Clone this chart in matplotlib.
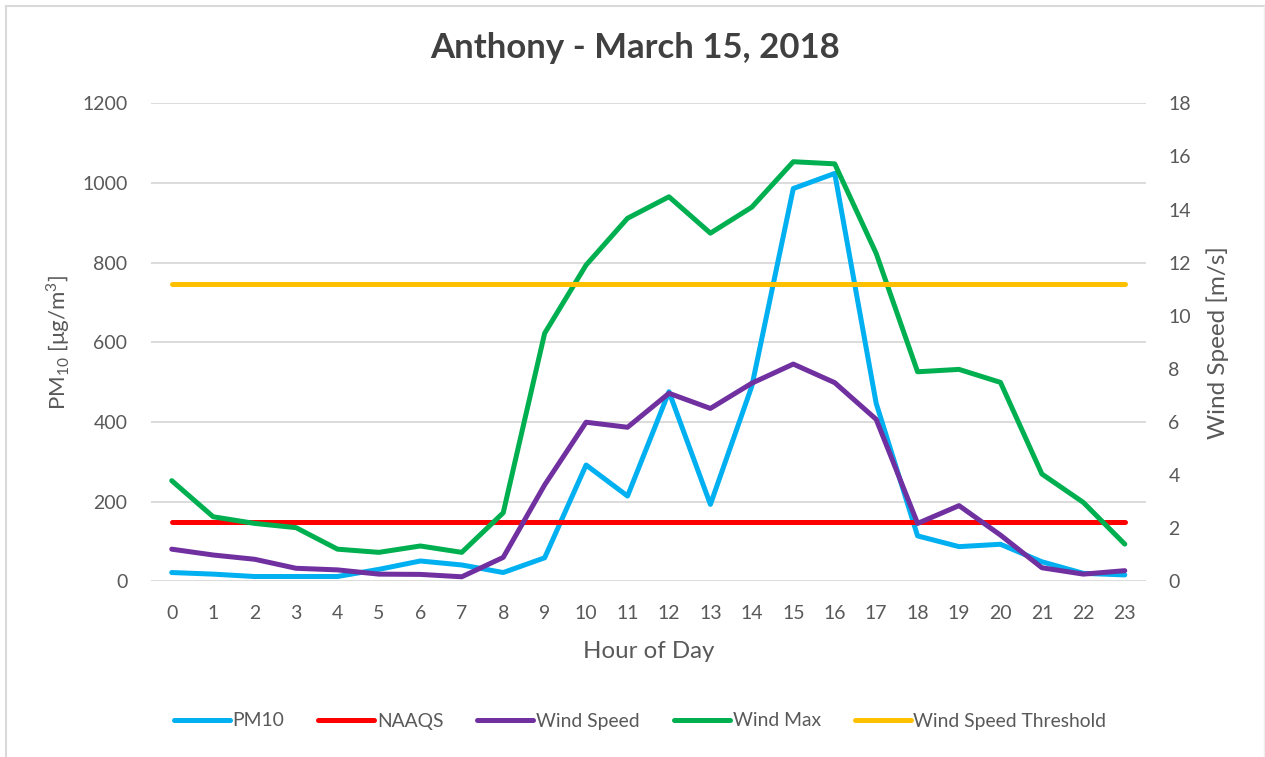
import matplotlib
matplotlib.use("Agg")
import matplotlib.pyplot as plt
from matplotlib.lines import Line2D

plt.rcParams['font.family'] = ['Lato', 'DejaVu Sans']
plt.rcParams['mathtext.fontset'] = 'custom'
plt.rcParams['mathtext.rm'] = 'Lato'

hours = list(range(24))
pm10 = [22, 18, 12, 12, 12, 30, 51, 41, 22, 59, 292, 214, 476, 193, 490, 986,
        1024, 447, 114, 87, 93, 49, 20, 16]
naaqs = [150] * 24
wind_speed = [1.21, 0.99, 0.83, 0.49, 0.43, 0.27, 0.26, 0.17, 0.90, 3.63, 5.99, 5.80,
              7.08, 6.51, 7.46, 8.18, 7.48, 6.10, 2.18, 2.85, 1.74, 0.51, 0.27, 0.40]
wind_max = [3.79, 2.43, 2.18, 2.02, 1.21, 1.09, 1.33, 1.09, 2.58, 9.34, 11.91, 13.67,
            14.48, 13.11, 14.09, 15.80, 15.72, 12.35, 7.89, 7.98, 7.49, 4.04, 2.97, 1.40]
threshold = [11.2] * 24

txt = "#595959"
grid = "#D9D9D9"
lw = 3.6

fig = plt.figure(figsize=(12.65, 7.57), dpi=100)
ax = fig.add_axes([151 / 1265, 1 - 581.3 / 757, (1145.5 - 151) / 1265, (581.3 - 103.3) / 757])
ax2 = ax.twinx()

ax.plot(hours, pm10, color="#00B0F0", lw=lw, solid_capstyle="round", solid_joinstyle="round")
ax.plot(hours, naaqs, color="#FF0000", lw=lw, solid_capstyle="round")
ax2.plot(hours, wind_speed, color="#7030A0", lw=lw, solid_capstyle="round", solid_joinstyle="round")
ax2.plot(hours, wind_max, color="#00B050", lw=lw, solid_capstyle="round", solid_joinstyle="round")
ax2.plot(hours, threshold, color="#FFC000", lw=lw, solid_capstyle="round")

ax.set_xlim(-0.5, 23.5)
ax.set_ylim(0, 1200)
ax2.set_ylim(0, 18)
ax.set_yticks(range(0, 1201, 200))
ax2.set_yticks(range(0, 19, 2))
ax.set_xticks(hours)

ax.yaxis.grid(True, color=grid, lw=1.3)
ax.set_axisbelow(True)
for a in (ax, ax2):
    for s in a.spines.values():
        s.set_visible(False)
    a.tick_params(length=0, labelsize=14, labelcolor=txt)
ax.tick_params(axis="y", pad=17)
ax2.tick_params(axis="y", pad=16.5)
ax.tick_params(axis="x", pad=17)

ax.set_xlabel("Hour of Day", fontsize=17.3, color=txt, labelpad=14)
ax.set_ylabel(r"PM$_{10}$ [μg/m$^3$]", fontsize=16, color=txt, labelpad=7)
ax2.set_ylabel("Wind Speed [m/s]", fontsize=17.5, color=txt, labelpad=11)

fig.suptitle("Anthony - March 15, 2018", x=0.502, y=1 - 48 / 757, va="center",
             fontsize=25, fontweight="bold", color="#404040")

handles = [Line2D([], [], color=c, lw=lw, solid_capstyle="round")
           for c in ["#00B0F0", "#FF0000", "#7030A0", "#00B050", "#FFC000"]]
labels = ["PM10", "NAAQS", "Wind Speed", "Wind Max", "Wind Speed Threshold"]
leg = fig.legend(handles, labels, loc="center", bbox_to_anchor=(0.506, 1 - 721 / 757),
                 ncol=5, frameon=False, fontsize=13.9, handlelength=2.9,
                 handletextpad=0.15, columnspacing=1.75)
for t in leg.get_texts():
    t.set_color(txt)

fig.add_artist(Line2D([6 / 1265, 6 / 1265], [0, 1 - 6 / 757], color=grid, lw=1.5))
fig.add_artist(Line2D([6 / 1265, 1264 / 1265], [1 - 6 / 757, 1 - 6 / 757], color=grid, lw=1.5))
fig.add_artist(Line2D([1264 / 1265, 1264 / 1265], [0, 1 - 6 / 757], color="#EEEEEE", lw=1))

fig.savefig("out.png", dpi=100)
